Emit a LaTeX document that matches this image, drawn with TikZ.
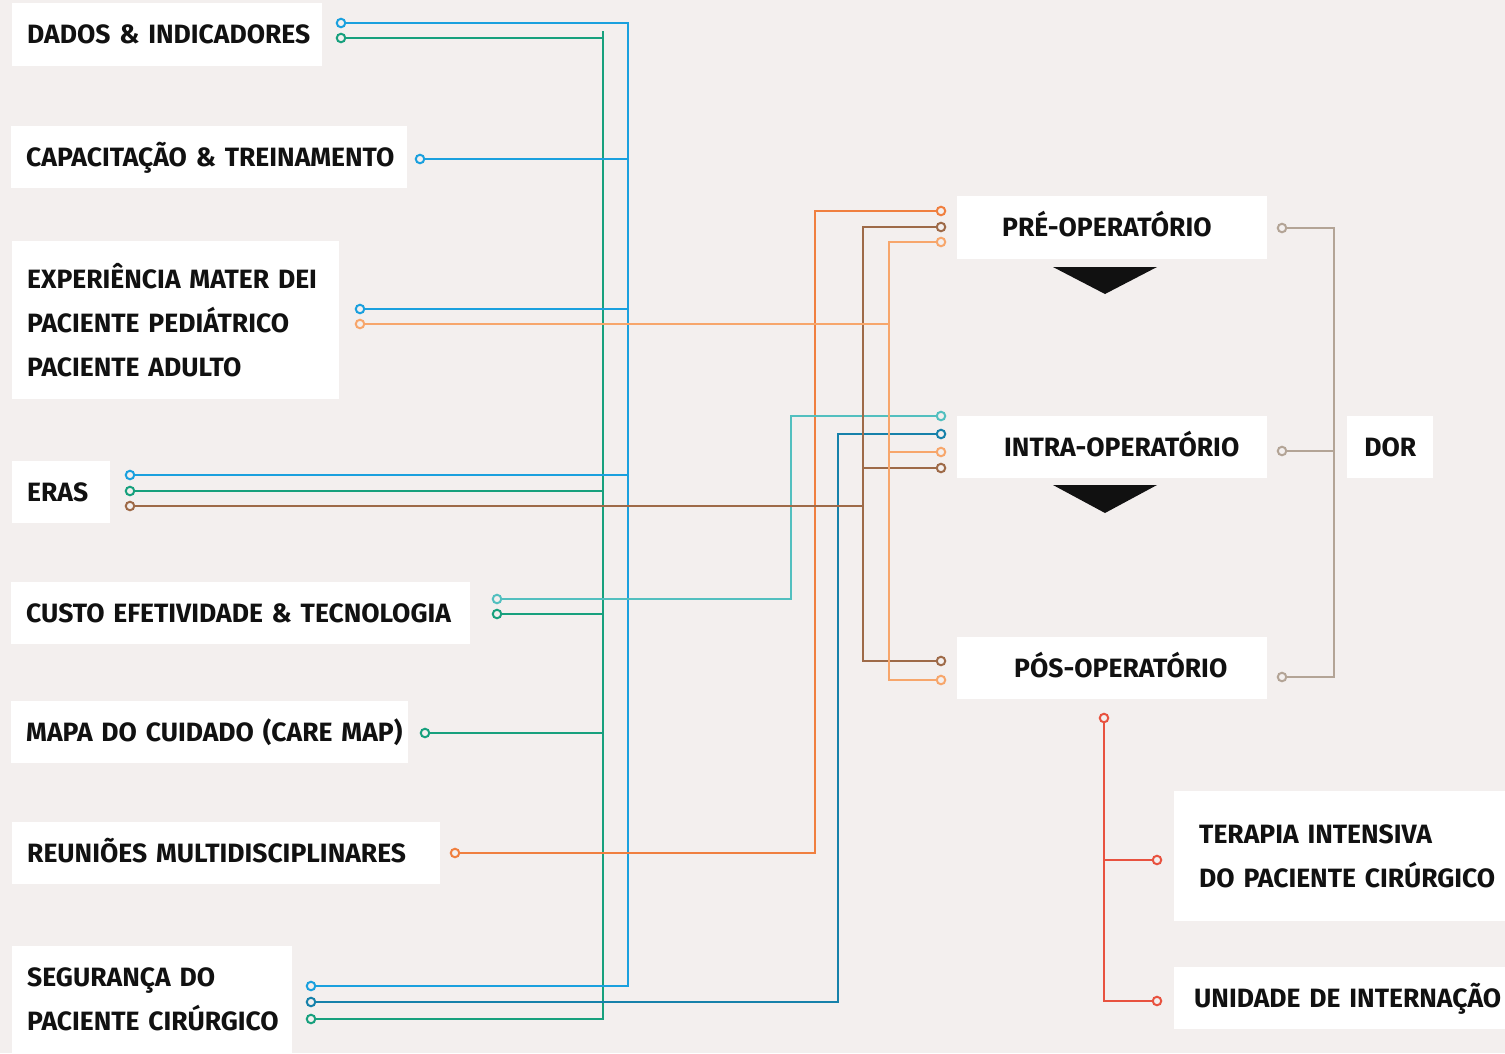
\documentclass[tikz,border=0pt]{standalone}
\usepackage{fontspec}
\setmainfont{Fira Sans}
\definecolor{bg}{HTML}{F3EFEE}
\definecolor{cblue}{HTML}{1AA0DE}
\definecolor{cgreen}{HTML}{17A07D}
\definecolor{cbrown}{HTML}{9E6A48}
\definecolor{cteal}{HTML}{52BFBF}
\definecolor{cdblue}{HTML}{1681AA}
\definecolor{corange}{HTML}{F07F3F}
\definecolor{clor}{HTML}{F7A66B}
\definecolor{cred}{HTML}{E8523F}
\definecolor{ctaupe}{HTML}{B3A496}
\definecolor{ink}{HTML}{111111}
\begin{document}
\begin{tikzpicture}[x=1pt,y=-1pt,
  font=\fontsize{26.5}{44}\selectfont\bfseries,
  box/.style={fill=white, draw=none, anchor=north west, text=ink, align=left, inner xsep=15pt, inner ysep=0pt},
  cbox/.style={fill=white, draw=none, anchor=north west, text=ink, align=center, inner xsep=0pt, inner ysep=0pt},
  one/.style={text height=18pt, text depth=0pt},
  dot/.style={circle, draw=#1, fill=bg, line width=2pt, minimum size=8.5pt, inner sep=0pt},
  ln/.style={draw=#1, line width=2pt}]
\fill[bg] (0,0) rectangle (1505,1053);
\useasboundingbox (0,0) rectangle (1505,1053);

% left boxes
\node[box, one, text width=280pt, minimum height=63pt] (dados) at (12,3) {\mbox{DADOS \& INDICADORES}};
\node[box, one, text width=366pt, minimum height=62pt] (capac) at (11,126) {\mbox{CAPACITAÇÃO \& TREINAMENTO}};
\node[box, text width=297pt, minimum height=158pt] (exper) at (12,241) {\mbox{EXPERIÊNCIA MATER DEI}\\\mbox{PACIENTE PEDIÁTRICO}\\\mbox{PACIENTE ADULTO}};
\node[box, one, text width=68pt, minimum height=62pt] (eras) at (12,461) {ERAS};
\node[box, one, text width=429pt, minimum height=62pt] (custo) at (11,582) {\mbox{CUSTO EFETIVIDADE \& TECNOLOGIA}};
\node[box, one, text width=367pt, minimum height=62pt] (mapa) at (11,701) {\mbox{MAPA DO CUIDADO (CARE MAP)}};
\node[box, one, text width=398pt, minimum height=62pt] (reun) at (12,822) {\mbox{REUNIÕES MULTIDISCIPLINARES}};
\node[box, text width=250pt, minimum height=107pt] (segur) at (12,946) {\mbox{SEGURANÇA DO}\\\mbox{PACIENTE CIRÚRGICO}};

% right boxes
\node[box, one, inner xsep=45pt, text width=220pt, minimum height=63pt] (pre) at (957,196) {\mbox{PRÉ-OPERATÓRIO}};
\node[box, one, inner xsep=47pt, text width=216pt, minimum height=62pt] (intra) at (957,416) {\mbox{INTRA-OPERATÓRIO}};
\node[box, one, inner xsep=57pt, text width=196pt, minimum height=62pt] (pos) at (957,637) {\mbox{PÓS-OPERATÓRIO}};
\node[cbox, one, text width=86pt, minimum height=62pt] (dor) at (1347,416) {DOR};
\node[box, inner xsep=25pt, text width=281pt, minimum height=130pt] (terap) at (1174,791) {\mbox{TERAPIA INTENSIVA}\\\mbox{DO PACIENTE CIRÚRGICO}};
\node[box, one, inner xsep=20pt, text width=291pt, minimum height=62pt] (unid) at (1174,967) {\mbox{UNIDADE DE INTERNAÇÃO}};

% flow arrows
\fill[ink] (1053,267) -- (1157,267) -- (1105,294) -- cycle;
\fill[ink] (1053,485) -- (1157,485) -- (1105,513) -- cycle;

% connector end points
\node[dot=cblue] (pDad1) at (341,23) {};
\node[dot=cgreen] (pDad2) at (341,38) {};
\node[dot=cblue] (pCap) at (420,159) {};
\node[dot=cblue] (pExp1) at (360,309) {};
\node[dot=clor] (pExp2) at (360,324) {};
\node[dot=cblue] (pEra1) at (130,475) {};
\node[dot=cgreen] (pEra2) at (130,491) {};
\node[dot=cbrown] (pEra3) at (130,506) {};
\node[dot=cteal] (pCus1) at (497,599) {};
\node[dot=cgreen] (pCus2) at (497,614) {};
\node[dot=cgreen] (pMap) at (425,733) {};
\node[dot=corange] (pReu) at (455,853) {};
\node[dot=cblue] (pSeg1) at (311,986) {};
\node[dot=cdblue] (pSeg2) at (311,1002) {};
\node[dot=cgreen] (pSeg3) at (311,1019) {};

\node[dot=corange] (pPre1) at (941,211) {};
\node[dot=cbrown] (pPre2) at (941,227) {};
\node[dot=clor] (pPre3) at (941,242) {};
\node[dot=cteal] (pInt1) at (941,416) {};
\node[dot=cdblue] (pInt2) at (941,434) {};
\node[dot=clor] (pInt3) at (941,452) {};
\node[dot=cbrown] (pInt4) at (941,468) {};
\node[dot=cbrown] (pPos1) at (941,661) {};
\node[dot=clor] (pPos2) at (941,680) {};

\node[dot=ctaupe] (tPre) at (1282,228) {};
\node[dot=ctaupe] (tInt) at (1282,451) {};
\node[dot=ctaupe] (tPos) at (1282,677) {};

\node[dot=cred] (rTop) at (1104,718) {};
\node[dot=cred] (rTer) at (1157,860) {};
\node[dot=cred] (rUni) at (1157,1001) {};

% bus coordinates
\coordinate (bT) at (628,23);   \coordinate (bB) at (628,986);
\coordinate (gT) at (603,31);   \coordinate (gB) at (603,1019);
\coordinate (brT) at (863,227); \coordinate (brB) at (863,661);
\coordinate (oB) at (815,853);  \coordinate (oT) at (815,211);
\coordinate (loT) at (889,242); \coordinate (loB) at (889,680);
\coordinate (tB) at (791,599);  \coordinate (tT) at (791,416);
\coordinate (dbB) at (838,1002); \coordinate (dbT) at (838,434);
\coordinate (taT) at (1334,228); \coordinate (taB) at (1334,677);
\coordinate (rB) at (1104,1001);

% green
\draw[ln=cgreen] (gT) -- (gB) -- (pSeg3);
\foreach \p in {pDad2,pEra2,pCus2,pMap} \draw[ln=cgreen] (\p) -- (\p -| gT);
% blue
\draw[ln=cblue] (pDad1) -- (bT) -- (bB) -- (pSeg1);
\foreach \p in {pCap,pExp1,pEra1} \draw[ln=cblue] (\p) -- (\p -| bT);
% orange
\draw[ln=corange] (pReu) -- (oB) -- (oT) -- (pPre1);
% teal
\draw[ln=cteal] (pCus1) -- (tB) -- (tT) -- (pInt1);
% dark blue
\draw[ln=cdblue] (pSeg2) -- (dbB) -- (dbT) -- (pInt2);
% brown
\draw[ln=cbrown] (pPre2) -- (brT) -- (brB) -- (pPos1);
\draw[ln=cbrown] (pEra3) -- (pEra3 -| brT);
\draw[ln=cbrown] (pInt4) -- (pInt4 -| brT);
% light orange
\draw[ln=clor] (pPre3) -- (loT) -- (loB) -- (pPos2);
\draw[ln=clor] (pExp2) -- (pExp2 -| loT);
\draw[ln=clor] (pInt3) -- (pInt3 -| loT);
% taupe
\draw[ln=ctaupe] (tPre) -- (taT) -- (taB) -- (tPos);
\draw[ln=ctaupe] (tInt) -- (tInt -| taT);
% red
\draw[ln=cred] (rTop) -- (rB) -- (rUni);
\draw[ln=cred] (rTer) -- (rTer -| rB);
\end{tikzpicture}
\end{document}
